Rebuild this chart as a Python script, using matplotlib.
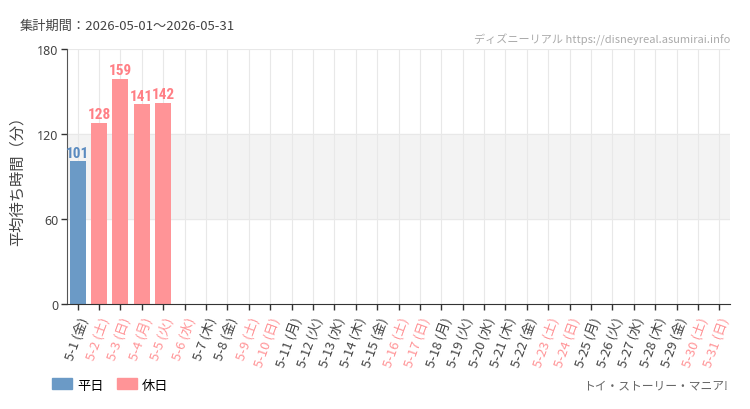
import matplotlib
matplotlib.use('Agg')
import matplotlib.pyplot as plt
from matplotlib.patches import Patch
from matplotlib import font_manager

plt.rcParams['font.family'] = ['Noto Sans CJK JP', 'DejaVu Sans']

##################################################
#############  DATA ##############################
##################################################

days = ['5-%d' % d for d in range(1, 32)]
weekdays = (['金', '土', '日', '月', '火', '水', '木'] * 5)[:31]
holiday = [False, True, True, True, True, True, False, False, True, True,
           False, False, False, False, False, True, True, False, False, False,
           False, False, True, True, False, False, False, False, False, True, True]
wait_min = [101, 128, 159, 141, 142]   # only the first five days have data

BLUE = '#6b9ac6'
PINK = '#ff9497'
BLUE_TXT = '#5a8bc0'
PINK_TXT = '#ff7f85'
GRAY_TXT = '#444444'

# narrow font for the value labels, if one is around
names = set(f.name for f in font_manager.fontManager.ttflist)
narrow = 'DejaVu Sans'
for cand in ('Liberation Sans Narrow', 'DejaVu Sans Condensed', 'Roboto Condensed'):
    if cand in names:
        narrow = cand
        break

fig = plt.figure(figsize=(7.5, 4.1), dpi=100)
ax = fig.add_axes([67 / 750, 105 / 410, 663 / 750, 255 / 410])

# band between 60 and 120
ax.axhspan(60, 120, color='#f3f3f3', zorder=0)
for x in range(len(days)):
    ax.axvline(x, color='#e8e8e8', lw=0.8, zorder=0.5)
for y in (60, 120, 180):
    ax.axhline(y, color='#e8e8e8', lw=0.8, zorder=0.5)

for i, v in enumerate(wait_min):
    c = PINK if holiday[i] else BLUE
    tc = PINK_TXT if holiday[i] else BLUE_TXT
    ax.bar(i, v, width=0.75, color=c, zorder=2)
    ax.text(i, v + 1.0, str(v), ha='center', va='bottom', color=tc,
            fontsize=11, fontweight='bold', family=[narrow], stretch='condensed',
            zorder=3)

ax.set_xlim(-0.5, len(days) - 0.5)
ax.set_ylim(0, 180)
ax.set_yticks([0, 60, 120, 180])
ax.set_yticklabels(['0', '60', '120', '180'], fontsize=9, color=GRAY_TXT,
                   fontweight='bold', family=['Noto Sans', 'DejaVu Sans'])
ax.set_xticks(range(len(days)))
labels = ['%s (%s)' % (d, w) for d, w in zip(days, weekdays)]
ax.set_xticklabels(labels, rotation=70, ha='right', va='top',
                   rotation_mode='anchor', fontsize=9.5)
for lbl, h in zip(ax.get_xticklabels(), holiday):
    lbl.set_color(PINK if h else GRAY_TXT)

ax.tick_params(axis='both', length=4, color='#333333', width=1)
ax.tick_params(axis='x', pad=4)
ax.tick_params(axis='y', pad=2)
for s in ('top', 'right'):
    ax.spines[s].set_visible(False)
ax.spines['left'].set_color('#555555')
ax.spines['bottom'].set_color('#333333')

ax.set_ylabel('平均待ち時間（分）', fontsize=11, color=GRAY_TXT)
ax.yaxis.set_label_coords(-0.062, 0.5)

fig.text(20 / 750, 1 - 26 / 410, '集計期間：2026-05-01～2026-05-31',
         fontsize=9.5, color=GRAY_TXT, va='center')
fig.text(730 / 750, 1 - 40 / 410,
         'ディズニーリアル https://disneyreal.asumirai.info',
         fontsize=8, color='#aaaaaa', ha='right', va='center',
         family=['Noto Sans CJK JP', narrow], stretch='condensed')
fig.text(728 / 750, 1 - 386 / 410, 'トイ・ストーリー・マニア!',
         fontsize=8.5, color='#666666', ha='right', va='center')

handles = [Patch(color=BLUE, label='平日'), Patch(color=PINK, label='休日')]
fig.legend(handles=handles, loc='center left', bbox_to_anchor=(47 / 750, 1 - 386 / 410),
           ncol=2, frameon=False, fontsize=9.5, handlelength=1.5, handleheight=0.9,
           columnspacing=1.0, handletextpad=0.4, borderaxespad=0)

fig.savefig('out.png', dpi=100)
